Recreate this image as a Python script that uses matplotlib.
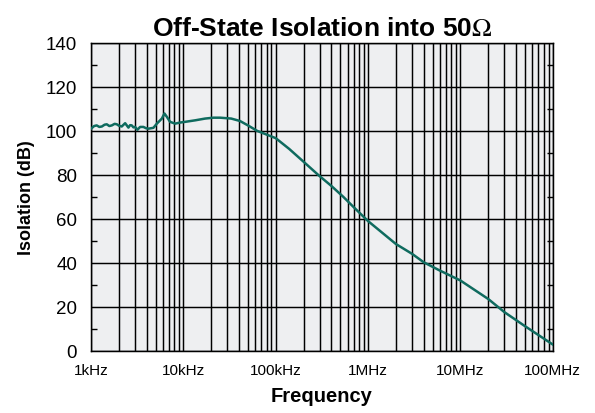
import matplotlib
matplotlib.use("Agg")
import matplotlib.pyplot as plt
from matplotlib.ticker import FixedLocator, NullFormatter
import numpy as np

plt.rcParams['font.family'] = ['Liberation Sans', 'DejaVu Sans']
plt.rcParams['mathtext.fontset'] = 'stix'

# values
freq_hz = [1000, 1080, 1150, 1230, 1310, 1400, 1480, 1580, 1680, 1800,
           1900, 2020, 2150, 2340, 2540, 2650, 2760, 2880, 3000, 3180,
           3400, 3690, 3950, 4190, 4740, 5160, 5850, 6240, 6620,
           7180, 8150, 9230, 10400, 13400, 17200, 21200, 25000, 33000,
           41000, 50000, 63000, 100000, 140000, 200000, 292000, 400000,
           540000, 700000, 1000000, 1350000, 2000000, 3000000, 4000000,
           6000000, 10000000, 20000000, 30000000, 49000000, 100000000]
iso_db = [101.0, 102.2, 102.5, 101.8, 102.0, 102.8, 103.0, 102.2, 102.5, 103.2,
          103.0, 102.3, 102.0, 103.5, 101.5, 102.6, 102.5, 101.6, 101.8, 100.5,
          101.8, 101.8, 101.2, 101.0, 101.4, 103.3, 105.6, 107.9, 106.4,
          104.1, 103.3, 103.8, 104.1, 104.8, 105.6, 106.0, 106.0, 105.6,
          104.5, 102.5, 100.0, 96.7, 91.8, 86.0, 79.8, 75.0,
          70.0, 65.3, 59.0, 54.5, 48.6, 44.1, 40.3,
          36.5, 32.0, 23.6, 17.6, 11.5, 2.9]

xtick_pos = [1e3, 1e4, 1e5, 1e6, 1e7, 1e8]
xtick_lab = ['1kHz', '10kHz', '100kHz', '1MHz', '10MHz', '100MHz']
ytick_pos = [0, 20, 40, 60, 80, 100, 120, 140]

fig = plt.figure(figsize=(5.95, 4.14), dpi=100)
ax = fig.add_axes([0.153, 0.150, 0.776, 0.744])
ax.set_facecolor('#eeeff1')

ax.plot(freq_hz, iso_db, color='#0f6b5f', linewidth=1.8, zorder=3)

ax.set_xscale('log')
ax.set_xlim(1e3, 1e8)
ax.set_ylim(0, 140)

ax.xaxis.set_major_locator(FixedLocator(xtick_pos))
ax.set_xticklabels(xtick_lab, fontsize=11)
minors = [m * d for d in [1e3, 1e4, 1e5, 1e6, 1e7] for m in range(2, 10)]
ax.xaxis.set_minor_locator(FixedLocator(minors))
ax.xaxis.set_minor_formatter(NullFormatter())

ax.set_yticks(ytick_pos)
ax.set_yticklabels([str(v) for v in ytick_pos], fontsize=13.5)
ax.yaxis.set_minor_locator(FixedLocator(np.arange(10, 140, 20)))

ax.grid(which='major', axis='both', color='black', linewidth=1.05)
ax.grid(which='minor', axis='x', color='black', linewidth=1.05)
ax.tick_params(axis='x', which='both', length=0, pad=9)
ax.tick_params(axis='y', which='major', length=0, pad=10)
ax.tick_params(axis='y', which='minor', direction='in', length=4, width=1.0,
               left=True, right=True)

for s in ax.spines.values():
    s.set_linewidth(1.05)

ax.set_title('Off-State Isolation into 50$\\Omega$', fontsize=19,
             fontweight='bold', pad=5.5)
ax.set_xlabel('Frequency', fontsize=14.5, fontweight='bold', labelpad=6)
ax.set_ylabel('Isolation (dB)', fontsize=13, fontweight='bold', labelpad=8)

fig.savefig('out.png', dpi=100)
